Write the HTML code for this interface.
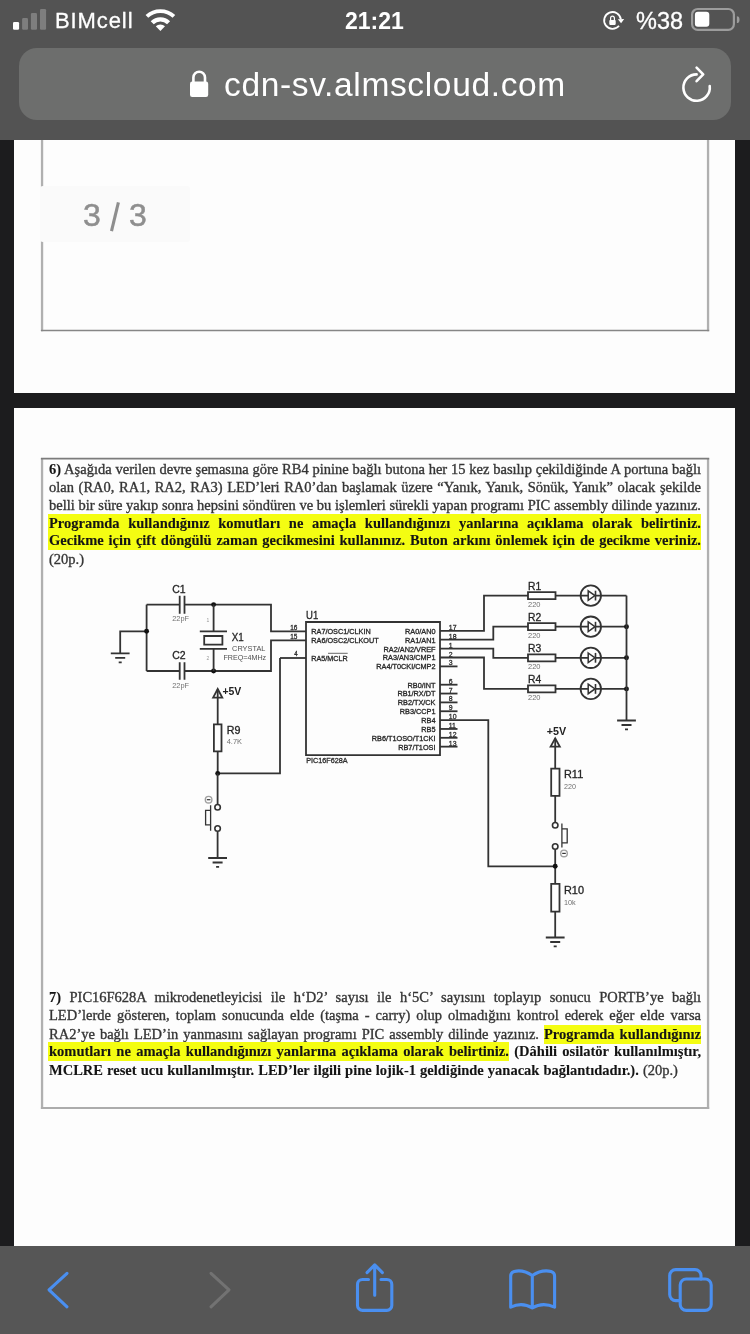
<!DOCTYPE html>
<html><head><meta charset="utf-8">
<style>
*{margin:0;padding:0;box-sizing:border-box}
html,body{width:750px;height:1334px;overflow:hidden;background:#1c1c1e;font-family:"Liberation Sans",sans-serif;position:relative}
.abs{position:absolute;will-change:transform}
#top{left:0;top:0;width:750px;height:140px;background:#535353}
#url{left:19px;top:48px;width:712px;height:72px;border-radius:18px;background:#6d6e6d}
.st{color:#fff;font-family:"Liberation Sans",sans-serif;white-space:nowrap;line-height:1}
#page1{left:14px;top:140px;width:721px;height:253px;background:#fdfdfd}
#page2{left:14px;top:408px;width:721px;height:838px;background:#fdfdfd}
#bot{left:0;top:1246px;width:750px;height:88px;background:#565656}
.ln{position:absolute;will-change:transform;font-family:"Liberation Serif",serif;font-size:14.5px;line-height:18px;height:18px;color:#333;white-space:nowrap;overflow:visible;-webkit-text-stroke:0.35px #3a3a3a}
.ln b,.b{font-weight:bold;color:#141414;-webkit-text-stroke:0.1px #141414}
.hl{background:#f4fd12;padding:0.8px 0 1.5px}
.hl0{margin-left:-1px;padding-left:1px}
</style></head><body>
<div class="abs" id="page1"></div>


<div class="abs" id="page2"></div>
<svg class="abs" style="left:0;top:0" width="750" height="1334" viewBox="0 0 750 1334">
  <path d="M42.05,130V331.2M708.05,130V331.2" stroke="#b0b0b0" stroke-width="2.3"/>
  <path d="M40.9,330.5H709.2" stroke="#868686" stroke-width="1.5"/>
  <path d="M42.05,458V1109M708.05,458V1109" stroke="#b0b0b0" stroke-width="2.3"/>
  <path d="M40.9,458.6H709.2" stroke="#7c7c7c" stroke-width="1.6"/>
  <path d="M40.9,1108H709.2" stroke="#acacac" stroke-width="2"/>
</svg>
<div class="abs" style="left:40px;top:185.5px;width:150px;height:56px;background:#fafafa;border-radius:3px"></div>
<div class="abs st" style="left:83.4px;top:198.7px;font-size:32px;color:#8e8e8e;-webkit-text-stroke:0.5px #8e8e8e">3</div>
<div class="abs st" style="left:129.3px;top:198.7px;font-size:32px;color:#8e8e8e;-webkit-text-stroke:0.5px #8e8e8e">3</div>
<svg class="abs" style="left:100px;top:195px" width="30" height="45" viewBox="100 195 30 45"><path d="M118.4,202.4 L111.5,231.2" stroke="#8e8e8e" stroke-width="3.1"/></svg>
<div class="ln" style="top:459.71px;left:49px;width:652px;text-align:justify;text-align-last:justify;"><b>6)</b> Aşağıda verilen devre şemasına göre RB4 pinine bağlı butona her 15 kez basılıp çekildiğinde A portuna bağlı</div>
<div class="ln" style="top:477.81px;left:49px;width:652px;text-align:justify;text-align-last:justify;">olan (RA0, RA1, RA2, RA3) LED’leri RA0’dan başlamak üzere “Yanık, Yanık, Sönük, Yanık” olacak şekilde</div>
<div class="ln" style="top:495.61px;left:49px;width:652px;text-align:justify;text-align-last:justify;">belli bir süre yakıp sonra hepsini söndüren ve bu işlemleri sürekli yapan programı PIC assembly dilinde yazınız.</div>
<div class="ln" style="top:513.71px;left:49px;width:652px;text-align:justify;text-align-last:justify;"><span class="hl hl0 b">Programda kullandığınız komutları ne amaçla kullandığınızı yanlarına açıklama olarak belirtiniz.</span></div>
<div class="ln" style="top:531.41px;left:49px;width:652px;text-align:justify;text-align-last:justify;"><span class="hl hl0 b">Gecikme için çift döngülü zaman gecikmesini kullanınız. Buton arkını önlemek için de gecikme veriniz.</span></div>
<div class="ln" style="top:549.61px;left:49px;width:652px;text-align:left;">(20p.)</div>
<div class="ln" style="top:987.91px;left:49px;width:652px;text-align:justify;text-align-last:justify;"><b>7)</b> PIC16F628A mikrodenetleyicisi ile h‘D2’ sayısı ile h‘5C’ sayısını toplayıp sonucu PORTB’ye bağlı</div>
<div class="ln" style="top:1005.91px;left:49px;width:652px;text-align:justify;text-align-last:justify;">LED’lerde gösteren, toplam sonucunda elde (taşma - carry) olup olmadığını kontrol ederek eğer elde varsa</div>
<div class="ln" style="top:1024.51px;left:49px;width:652px;text-align:justify;text-align-last:justify;">RA2’ye bağlı LED’in yanmasını sağlayan programı PIC assembly dilinde yazınız. <span class="hl b">Programda kullandığınız</span></div>
<div class="ln" style="top:1042.31px;left:49px;width:652px;text-align:justify;text-align-last:justify;"><span class="hl hl0 b">komutları ne amaçla kullandığınızı yanlarına açıklama olarak belirtiniz.</span> <b>(Dâhili osilatör kullanılmıştır,</b></div>
<div class="ln" style="top:1060.51px;left:49px;width:652px;text-align:left;"><span style="word-spacing:0.45px"><b>MCLRE reset ucu kullanılmıştır. LED’ler ilgili pine lojik-1 geldiğinde yanacak bağlantıdadır.).</b> (20p.)</span></div>
<svg class="abs" style="left:0;top:0" width="750" height="1334" viewBox="0 0 750 1334" font-family="Liberation Sans, sans-serif">
<path d="M146.6,604.6H179.7M184.5,604.6H271V631.3H306" stroke="#333" stroke-width="1.8" fill="none"/>
<path d="M179.7,595.8V613.7M184.5,595.8V613.7" stroke="#333" stroke-width="1.8" fill="none"/>
<path d="M146.6,604.6V671" stroke="#333" stroke-width="1.8" fill="none"/>
<path d="M146.6,671H179.7M184.5,671H271V640.4H306" stroke="#333" stroke-width="1.8" fill="none"/>
<path d="M179.7,662.2V679.8M184.5,662.2V679.8" stroke="#333" stroke-width="1.8" fill="none"/>
<path d="M146.6,631.3H120.2V653.1" stroke="#333" stroke-width="1.8" fill="none"/>
<path d="M110.8,653.4H129.6M115.2,657.9H125.2M118.7,662.3000000000001H121.7" stroke="#333" stroke-width="1.8" fill="none"/>
<circle cx="146.6" cy="631.3" r="2.45" fill="#111"/>
<circle cx="213.6" cy="604.6" r="2.45" fill="#111"/>
<circle cx="213.6" cy="671" r="2.45" fill="#111"/>
<path d="M213.6,604.6V631.3M199.8,631.3H227M199.8,648.9H227M213.6,648.9V671" stroke="#333" stroke-width="1.8" fill="none"/>
<path d="M204.2,636h18.2v8.6h-18.2z" stroke="#333" stroke-width="1.8" fill="none"/>
<text x="172.2" y="592.8" font-size="10" fill="#262626" text-anchor="start" textLength="13.4" lengthAdjust="spacingAndGlyphs" stroke="#262626" stroke-width="0.3">C1</text>
<text x="172.2" y="621.4" font-size="7.4" fill="#707070" text-anchor="start" textLength="16.8" lengthAdjust="spacingAndGlyphs">22pF</text>
<text x="172.2" y="659.2" font-size="10" fill="#262626" text-anchor="start" textLength="13.4" lengthAdjust="spacingAndGlyphs" stroke="#262626" stroke-width="0.3">C2</text>
<text x="172.2" y="687.8" font-size="7.4" fill="#707070" text-anchor="start" textLength="16.8" lengthAdjust="spacingAndGlyphs">22pF</text>
<text x="231.8" y="640.6" font-size="10.5" fill="#262626" text-anchor="start" textLength="12" lengthAdjust="spacingAndGlyphs" stroke="#262626" stroke-width="0.3">X1</text>
<text x="232.1" y="650.9" font-size="7.4" fill="#505050" text-anchor="start" textLength="33.3" lengthAdjust="spacingAndGlyphs">CRYSTAL</text>
<text x="223.5" y="659.8" font-size="7.3" fill="#505050" text-anchor="start" textLength="42.7" lengthAdjust="spacingAndGlyphs">FREQ=4MHz</text>
<text x="206.5" y="621.5" font-size="5" fill="#999" text-anchor="start">1</text>
<text x="206.5" y="660" font-size="5" fill="#999" text-anchor="start">2</text>
<path d="M306,622H440V755.2H306Z" stroke="#333" stroke-width="1.8" fill="none"/>
<path d="M280,658H306" stroke="#333" stroke-width="1.8" fill="none"/>
<text x="306.1" y="619.3" font-size="10.8" fill="#262626" text-anchor="start" textLength="12.2" lengthAdjust="spacingAndGlyphs" stroke="#262626" stroke-width="0.3">U1</text>
<text x="290.2" y="629.6" font-size="6.9" fill="#2e2e2e" text-anchor="start" textLength="7.2" lengthAdjust="spacingAndGlyphs" stroke="#2e2e2e" stroke-width="0.3">16</text>
<text x="290.2" y="638.7" font-size="6.9" fill="#2e2e2e" text-anchor="start" textLength="7.2" lengthAdjust="spacingAndGlyphs" stroke="#2e2e2e" stroke-width="0.3">15</text>
<text x="294.2" y="656.4" font-size="6.9" fill="#2e2e2e" text-anchor="start" textLength="3.4" lengthAdjust="spacingAndGlyphs" stroke="#2e2e2e" stroke-width="0.3">4</text>
<text x="311.3" y="634.2" font-size="7.3" fill="#262626" text-anchor="start" textLength="59.4" lengthAdjust="spacingAndGlyphs" stroke="#262626" stroke-width="0.3">RA7/OSC1/CLKIN</text>
<text x="311.3" y="642.9" font-size="7.3" fill="#262626" text-anchor="start" textLength="67.4" lengthAdjust="spacingAndGlyphs" stroke="#262626" stroke-width="0.3">RA6/OSC2/CLKOUT</text>
<text x="311.3" y="660.5" font-size="7.3" fill="#262626" text-anchor="start" textLength="36.4" lengthAdjust="spacingAndGlyphs" stroke="#262626" stroke-width="0.3">RA5/MCLR</text>
<path d="M328,653.3H347.7" stroke="#444" stroke-width="0.8" fill="none"/>
<text x="435.5" y="633.6999999999999" font-size="7.3" fill="#262626" text-anchor="end" stroke="#262626" stroke-width="0.3">RA0/AN0</text>
<text x="448.8" y="629.8" font-size="6.9" fill="#2e2e2e" text-anchor="start" stroke="#2e2e2e" stroke-width="0.3">17</text>
<text x="435.5" y="642.5999999999999" font-size="7.3" fill="#262626" text-anchor="end" stroke="#262626" stroke-width="0.3">RA1/AN1</text>
<text x="448.8" y="638.6999999999999" font-size="6.9" fill="#2e2e2e" text-anchor="start" stroke="#2e2e2e" stroke-width="0.3">18</text>
<text x="435.5" y="651.4999999999999" font-size="7.3" fill="#262626" text-anchor="end" stroke="#262626" stroke-width="0.3">RA2/AN2/VREF</text>
<text x="448.8" y="647.5999999999999" font-size="6.9" fill="#2e2e2e" text-anchor="start" stroke="#2e2e2e" stroke-width="0.3">1</text>
<text x="435.5" y="660.4" font-size="7.3" fill="#262626" text-anchor="end" stroke="#262626" stroke-width="0.3">RA3/AN3/CMP1</text>
<text x="448.8" y="656.5" font-size="6.9" fill="#2e2e2e" text-anchor="start" stroke="#2e2e2e" stroke-width="0.3">2</text>
<text x="435.5" y="669.3" font-size="7.3" fill="#262626" text-anchor="end" stroke="#262626" stroke-width="0.3">RA4/T0CKI/CMP2</text>
<text x="448.8" y="665.4" font-size="6.9" fill="#2e2e2e" text-anchor="start" stroke="#2e2e2e" stroke-width="0.3">3</text>
<path d="M440,666.4H457.5" stroke="#333" stroke-width="1.8" fill="none"/>
<text x="435.5" y="687.6" font-size="7.3" fill="#262626" text-anchor="end" stroke="#262626" stroke-width="0.3">RB0/INT</text>
<text x="448.8" y="683.7" font-size="6.9" fill="#2e2e2e" text-anchor="start" stroke="#2e2e2e" stroke-width="0.3">6</text>
<path d="M440,684.7H457.5" stroke="#333" stroke-width="1.8" fill="none"/>
<text x="435.5" y="696.4499999999999" font-size="7.3" fill="#262626" text-anchor="end" stroke="#262626" stroke-width="0.3">RB1/RX/DT</text>
<text x="448.8" y="692.55" font-size="6.9" fill="#2e2e2e" text-anchor="start" stroke="#2e2e2e" stroke-width="0.3">7</text>
<path d="M440,693.55H457.5" stroke="#333" stroke-width="1.8" fill="none"/>
<text x="435.5" y="705.3" font-size="7.3" fill="#262626" text-anchor="end" stroke="#262626" stroke-width="0.3">RB2/TX/CK</text>
<text x="448.8" y="701.4" font-size="6.9" fill="#2e2e2e" text-anchor="start" stroke="#2e2e2e" stroke-width="0.3">8</text>
<path d="M440,702.4H457.5" stroke="#333" stroke-width="1.8" fill="none"/>
<text x="435.5" y="714.15" font-size="7.3" fill="#262626" text-anchor="end" stroke="#262626" stroke-width="0.3">RB3/CCP1</text>
<text x="448.8" y="710.25" font-size="6.9" fill="#2e2e2e" text-anchor="start" stroke="#2e2e2e" stroke-width="0.3">9</text>
<path d="M440,711.25H457.5" stroke="#333" stroke-width="1.8" fill="none"/>
<text x="435.5" y="723.0" font-size="7.3" fill="#262626" text-anchor="end" stroke="#262626" stroke-width="0.3">RB4</text>
<text x="448.8" y="719.1" font-size="6.9" fill="#2e2e2e" text-anchor="start" stroke="#2e2e2e" stroke-width="0.3">10</text>
<text x="435.5" y="731.85" font-size="7.3" fill="#262626" text-anchor="end" stroke="#262626" stroke-width="0.3">RB5</text>
<text x="448.8" y="727.95" font-size="6.9" fill="#2e2e2e" text-anchor="start" stroke="#2e2e2e" stroke-width="0.3">11</text>
<path d="M440,728.95H457.5" stroke="#333" stroke-width="1.8" fill="none"/>
<text x="435.5" y="740.6999999999999" font-size="7.3" fill="#262626" text-anchor="end" stroke="#262626" stroke-width="0.3">RB6/T1OSO/T1CKI</text>
<text x="448.8" y="736.8" font-size="6.9" fill="#2e2e2e" text-anchor="start" stroke="#2e2e2e" stroke-width="0.3">12</text>
<path d="M440,737.8H457.5" stroke="#333" stroke-width="1.8" fill="none"/>
<text x="435.5" y="749.55" font-size="7.3" fill="#262626" text-anchor="end" stroke="#262626" stroke-width="0.3">RB7/T1OSI</text>
<text x="448.8" y="745.65" font-size="6.9" fill="#2e2e2e" text-anchor="start" stroke="#2e2e2e" stroke-width="0.3">13</text>
<path d="M440,746.65H457.5" stroke="#333" stroke-width="1.8" fill="none"/>
<text x="306.2" y="763.2" font-size="7.2" fill="#2e2e2e" text-anchor="start" textLength="41.4" lengthAdjust="spacingAndGlyphs" stroke="#2e2e2e" stroke-width="0.3">PIC16F628A</text>
<path d="M440,630.8H484V595.6H528" stroke="#333" stroke-width="1.8" fill="none"/>
<path d="M440,639.7H493.3V626.7H528" stroke="#333" stroke-width="1.8" fill="none"/>
<path d="M440,648.6H493.3V657.8H528" stroke="#333" stroke-width="1.8" fill="none"/>
<path d="M440,657.5H484V688.9H528" stroke="#333" stroke-width="1.8" fill="none"/>
<path d="M528,592.1h27.5v7h-27.5z" stroke="#333" stroke-width="1.8" fill="none"/>
<path d="M555.5,595.6H588.2M595.4,595.6H626.5" stroke="#333" stroke-width="1.8" fill="none"/>
<circle cx="590.8" cy="595.6" r="10.2" stroke="#333" stroke-width="1.8" fill="none"/>
<path d="M588.2,590.8000000000001L595,595.6L588.2,600.4Z" stroke="#333" stroke-width="1.5" fill="none"/>
<path d="M595.5,590.7V600.5" stroke="#333" stroke-width="1.6" fill="none"/>
<text x="528" y="589.6" font-size="10" fill="#262626" text-anchor="start" textLength="13.2" lengthAdjust="spacingAndGlyphs" stroke="#262626" stroke-width="0.3">R1</text>
<text x="528" y="607.0" font-size="7.4" fill="#707070" text-anchor="start" textLength="12.5" lengthAdjust="spacingAndGlyphs">220</text>
<path d="M528,623.2h27.5v7h-27.5z" stroke="#333" stroke-width="1.8" fill="none"/>
<path d="M555.5,626.7H588.2M595.4,626.7H626.5" stroke="#333" stroke-width="1.8" fill="none"/>
<circle cx="590.8" cy="626.7" r="10.2" stroke="#333" stroke-width="1.8" fill="none"/>
<path d="M588.2,621.9000000000001L595,626.7L588.2,631.5Z" stroke="#333" stroke-width="1.5" fill="none"/>
<path d="M595.5,621.8000000000001V631.6" stroke="#333" stroke-width="1.6" fill="none"/>
<text x="528" y="620.7" font-size="10" fill="#262626" text-anchor="start" textLength="13.2" lengthAdjust="spacingAndGlyphs" stroke="#262626" stroke-width="0.3">R2</text>
<text x="528" y="638.1" font-size="7.4" fill="#707070" text-anchor="start" textLength="12.5" lengthAdjust="spacingAndGlyphs">220</text>
<circle cx="626.5" cy="626.7" r="2.45" fill="#111"/>
<path d="M528,654.3h27.5v7h-27.5z" stroke="#333" stroke-width="1.8" fill="none"/>
<path d="M555.5,657.8H588.2M595.4,657.8H626.5" stroke="#333" stroke-width="1.8" fill="none"/>
<circle cx="590.8" cy="657.8" r="10.2" stroke="#333" stroke-width="1.8" fill="none"/>
<path d="M588.2,653.0L595,657.8L588.2,662.5999999999999Z" stroke="#333" stroke-width="1.5" fill="none"/>
<path d="M595.5,652.9V662.6999999999999" stroke="#333" stroke-width="1.6" fill="none"/>
<text x="528" y="651.8" font-size="10" fill="#262626" text-anchor="start" textLength="13.2" lengthAdjust="spacingAndGlyphs" stroke="#262626" stroke-width="0.3">R3</text>
<text x="528" y="669.1999999999999" font-size="7.4" fill="#707070" text-anchor="start" textLength="12.5" lengthAdjust="spacingAndGlyphs">220</text>
<circle cx="626.5" cy="657.8" r="2.45" fill="#111"/>
<path d="M528,685.4h27.5v7h-27.5z" stroke="#333" stroke-width="1.8" fill="none"/>
<path d="M555.5,688.9H588.2M595.4,688.9H626.5" stroke="#333" stroke-width="1.8" fill="none"/>
<circle cx="590.8" cy="688.9" r="10.2" stroke="#333" stroke-width="1.8" fill="none"/>
<path d="M588.2,684.1L595,688.9L588.2,693.6999999999999Z" stroke="#333" stroke-width="1.5" fill="none"/>
<path d="M595.5,684.0V693.8" stroke="#333" stroke-width="1.6" fill="none"/>
<text x="528" y="682.9" font-size="10" fill="#262626" text-anchor="start" textLength="13.2" lengthAdjust="spacingAndGlyphs" stroke="#262626" stroke-width="0.3">R4</text>
<text x="528" y="700.3" font-size="7.4" fill="#707070" text-anchor="start" textLength="12.5" lengthAdjust="spacingAndGlyphs">220</text>
<circle cx="626.5" cy="688.9" r="2.45" fill="#111"/>
<path d="M626.5,595.6V720.2" stroke="#333" stroke-width="1.8" fill="none"/>
<path d="M617.1,720.5H635.9M621.5,725.0H631.5M625.0,729.4000000000001H628.0" stroke="#333" stroke-width="1.8" fill="none"/>
<path d="M440,720.1H488.3V866.3H555.2" stroke="#333" stroke-width="1.8" fill="none"/>
<path d="M555.2,738.2V768.6" stroke="#333" stroke-width="1.8" fill="none"/>
<path d="M550.6,746.6L555.2,738.3L559.8,746.6Z" stroke="#333" stroke-width="1.8" fill="none"/>
<text x="546.8" y="734.9" font-size="10.8" fill="#222" text-anchor="start" textLength="19.4" lengthAdjust="spacingAndGlyphs" font-weight="bold">+5V</text>
<path d="M551.2,768.6h8.3v27.2h-8.3z" stroke="#333" stroke-width="1.8" fill="none"/>
<path d="M555.2,795.8V822" stroke="#333" stroke-width="1.8" fill="none"/>
<circle cx="555.2" cy="825.2" r="2.75" stroke="#333" stroke-width="1.6" fill="none"/>
<circle cx="555.2" cy="846.5" r="2.75" stroke="#333" stroke-width="1.6" fill="none"/>
<path d="M555.2,849.5V883.9" stroke="#333" stroke-width="1.8" fill="none"/>
<circle cx="555.2" cy="866.3" r="2.45" fill="#111"/>
<path d="M561.9,823.6V847.6M561.9,828.9h5.3v13.9h-5.3" stroke="#333" stroke-width="1.3" fill="none"/>
<circle cx="564" cy="853.4" r="3.3" stroke="#a0a0a0" stroke-width="1.4" fill="none"/><path d="M562.2,853.4h3.6" stroke="#333" stroke-width="1.2"/>
<path d="M551.2,883.9h8.3v27.7h-8.3z" stroke="#333" stroke-width="1.8" fill="none"/>
<path d="M555.2,911.6V937.2" stroke="#333" stroke-width="1.8" fill="none"/>
<path d="M545.8000000000001,937.5H564.6M550.2,942.0H560.2M553.7,946.4000000000001H556.7" stroke="#333" stroke-width="1.8" fill="none"/>
<text x="564" y="778.4" font-size="10" fill="#262626" text-anchor="start" textLength="19.2" lengthAdjust="spacingAndGlyphs" stroke="#262626" stroke-width="0.3">R11</text>
<text x="564" y="788.8" font-size="7.4" fill="#707070" text-anchor="start" textLength="12" lengthAdjust="spacingAndGlyphs">220</text>
<text x="564" y="893.7" font-size="10" fill="#262626" text-anchor="start" textLength="20" lengthAdjust="spacingAndGlyphs" stroke="#262626" stroke-width="0.3">R10</text>
<text x="564" y="904.6" font-size="7.4" fill="#707070" text-anchor="start" textLength="11.7" lengthAdjust="spacingAndGlyphs">10k</text>
<path d="M217.7,689.2V724.3" stroke="#333" stroke-width="1.8" fill="none"/>
<path d="M213.1,697.6L217.7,689.0L222.3,697.6Z" stroke="#333" stroke-width="1.8" fill="none"/>
<text x="222.4" y="695.0" font-size="10.8" fill="#222" text-anchor="start" textLength="18.9" lengthAdjust="spacingAndGlyphs" font-weight="bold">+5V</text>
<path d="M213.9,724.3h7.6v27h-7.6z" stroke="#333" stroke-width="1.8" fill="none"/>
<path d="M217.7,751.3V773.4H280V658" stroke="#333" stroke-width="1.8" fill="none"/>
<circle cx="217.7" cy="773.4" r="2.45" fill="#111"/>
<path d="M217.6,773.4V804" stroke="#333" stroke-width="1.8" fill="none"/>
<circle cx="217.6" cy="807.3" r="2.75" stroke="#333" stroke-width="1.6" fill="none"/>
<circle cx="217.6" cy="828.5" r="2.75" stroke="#333" stroke-width="1.6" fill="none"/>
<path d="M217.6,831.6V857.7" stroke="#333" stroke-width="1.8" fill="none"/>
<path d="M208.2,858.0H227.0M212.6,862.5H222.6M216.1,866.9000000000001H219.1" stroke="#333" stroke-width="1.8" fill="none"/>
<path d="M210.6,805.2V830.8M210.6,810.3h-5v14.6h5" stroke="#333" stroke-width="1.3" fill="none"/>
<circle cx="208.6" cy="799.7" r="3.3" stroke="#a0a0a0" stroke-width="1.4" fill="none"/><path d="M206.8,799.7h3.6" stroke="#333" stroke-width="1.2"/>
<text x="226.7" y="733.9" font-size="10" fill="#262626" text-anchor="start" textLength="13.7" lengthAdjust="spacingAndGlyphs" stroke="#262626" stroke-width="0.3">R9</text>
<text x="226.7" y="743.9" font-size="7.4" fill="#707070" text-anchor="start" textLength="15.3" lengthAdjust="spacingAndGlyphs">4.7K</text>
</svg>

<div class="abs" id="top"></div>
<!-- status bar -->
<svg class="abs" style="left:0;top:0" width="750" height="46">
  <rect x="13" y="22" width="6.1" height="7.8" rx="1.3" fill="#fff"/>
  <rect x="22.1" y="18.1" width="5.9" height="11.7" rx="1.3" fill="#7e7e7e"/>
  <rect x="30.9" y="13.1" width="6.1" height="16.7" rx="1.3" fill="#7e7e7e"/>
  <rect x="40" y="9" width="6.1" height="20.8" rx="1.3" fill="#7e7e7e"/>
  <!-- wifi -->
  <g fill="none" stroke="#fff">
    <path d="M146.9,16.4 A19.8,19.8 0 0 1 173.9,16.4" stroke-width="3.9"/>
    <path d="M152.23,22.73 A11.55,11.55 0 0 1 168.57,22.73" stroke-width="4.3"/>
  </g>
  <path d="M160.4,30.9 L155.8,26.3 A6.5,6.5 0 0 1 165,26.3 Z" fill="#fff"/>
  <!-- rotation lock -->
  <path d="M619.03,25.8 A8.4,8.4 0 1 1 620.9,19.4" fill="none" stroke="#fff" stroke-width="1.8"/>
  <path d="M617.8,19.3 L624.2,19.1 L621.1,23.3 Z" fill="#fff"/>
  <rect x="609.3" y="20.1" width="6.4" height="4.8" rx="0.8" fill="#fff"/>
  <path d="M610.6,20.3 V18.1 A1.9,1.9 0 0 1 614.4,18.1 V20.3" fill="none" stroke="#fff" stroke-width="1.2"/>
  <!-- battery -->
  <rect x="692.1" y="9" width="41.8" height="20.9" rx="5.6" fill="none" stroke="#9c9c9c" stroke-width="2.2"/>
  <rect x="694.9" y="11.8" width="14.4" height="15" rx="3" fill="#fff"/>
  <path d="M736.9,16.3 A2.6,3.35 0 0 1 736.9,23 Z" fill="#9c9c9c"/>
</svg>
<div class="abs st" style="left:55px;top:10px;font-size:22px;letter-spacing:0.9px;-webkit-text-stroke:0.3px #fff">BIMcell</div>
<div class="abs st" style="left:345.3px;top:9.5px;font-size:23px;font-weight:bold">21:21</div>
<div class="abs st" style="left:636px;top:9.5px;font-size:23.5px;-webkit-text-stroke:0.3px #fff">%38</div>

<div class="abs" id="url"></div>
<svg class="abs" style="left:0;top:40px" width="750" height="90" viewBox="0 40 750 90">
  <path d="M193.4,82 V77.5 A5.8,5.8 0 0 1 205,77.5 V82" fill="none" stroke="#fff" stroke-width="2.6"/>
  <rect x="190" y="81.5" width="18.2" height="15.5" rx="2.2" fill="#fff"/>
  <path d="M696.6,74.4 A13.2,13.2 0 1 0 709.7,86" fill="none" stroke="#fff" stroke-width="2.6" stroke-linecap="round"/>
  <path d="M696.6,67.6 L703.2,74.4 L696.6,81.2" fill="none" stroke="#fff" stroke-width="2.6" stroke-linecap="round" stroke-linejoin="round"/>
</svg>
<div class="abs st" style="left:224px;top:67.5px;font-size:33.5px;letter-spacing:0.65px">cdn-sv.almscloud.com</div>

<div class="abs" id="bot"></div>
<svg class="abs" style="left:0;top:1246px" width="750" height="88" viewBox="0 1246 750 88">
  <g fill="none" stroke-width="3.1" stroke-linecap="round" stroke-linejoin="round">
    <path d="M67,1273.3 L49,1289.8 L67,1306.8" stroke="#4a8ff0"/>
    <path d="M211,1273.3 L229,1289.8 L211,1306.8" stroke="#727272"/>
    <path d="M368.5,1279.5 H362.5 A5,5 0 0 0 357.5,1284.5 V1305.4 A5,5 0 0 0 362.5,1310.4 H386.8 A5,5 0 0 0 391.8,1305.4 V1284.5 A5,5 0 0 0 386.8,1279.5 H381" stroke="#4a8ff0"/>
    <path d="M374.7,1265 V1295.3 M367,1272.6 L374.7,1264.8 L382.4,1272.6" stroke="#4a8ff0"/>
    <path d="M532.3,1308 V1275.5 Q523,1269.2 514.2,1271.4 Q510.7,1272.4 510.7,1276 V1307.2 Q522,1301.6 532.3,1308 Q542.6,1301.6 554.6,1307.2 V1276 Q554.6,1272.4 551.1,1271.4 Q541.6,1269.2 532.3,1275.5" stroke="#4a8ff0"/>
    <path d="M680,1300.6 H675.7 A6,6 0 0 1 669.7,1294.6 V1275.6 A6,6 0 0 1 675.7,1269.6 H695 A6,6 0 0 1 701,1275.6 V1279" stroke="#4a8ff0"/>
    <rect x="680.2" y="1279" width="31" height="31.4" rx="6" stroke="#4a8ff0"/>
  </g>
</svg>
</body></html>
